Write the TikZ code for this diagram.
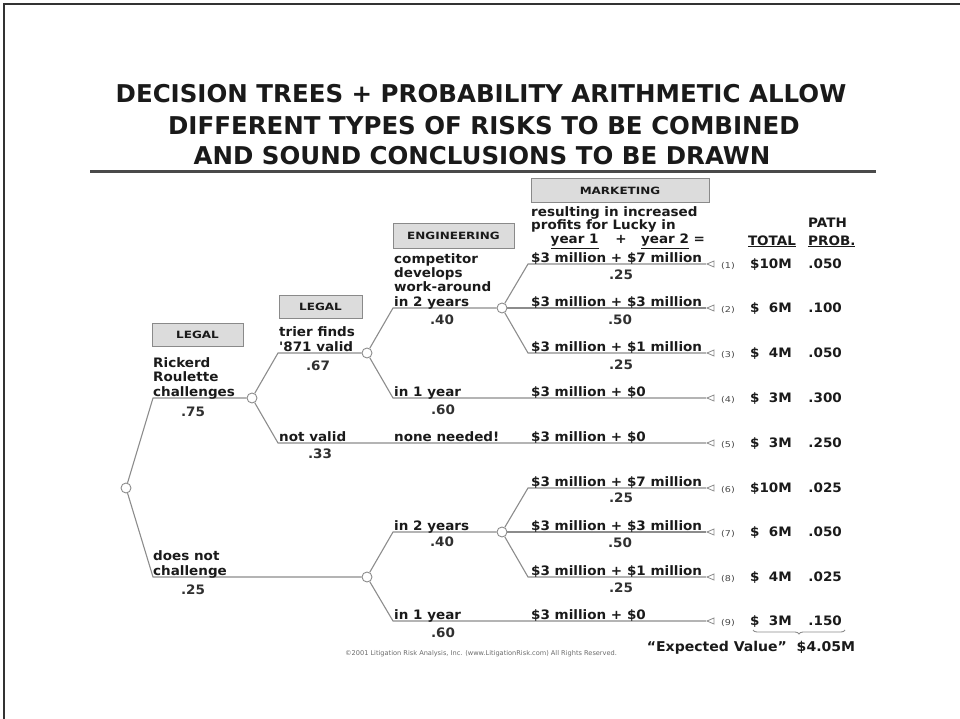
\documentclass[tikz,border=0pt]{standalone}
\usepackage{fontspec}
\setmainfont{DejaVu Sans}
\newfontfamily\bodyfont[FakeStretch=1.04]{DejaVu Sans}
\newfontfamily\boxfont[FakeStretch=1.2]{DejaVu Sans}
\usetikzlibrary{shapes.geometric,decorations.pathreplacing}
\definecolor{ink}{HTML}{1A1A1A}
\definecolor{probink}{HTML}{303030}
\definecolor{linegray}{HTML}{8C8C8C}
\definecolor{boxfill}{HTML}{DCDCDC}
\definecolor{boxdraw}{HTML}{8A8A8A}
\definecolor{framegray}{HTML}{333333}
\definecolor{rulegray}{HTML}{4A4A4A}
\definecolor{footgray}{HTML}{6A6A6A}
\tikzset{
  chance/.style={circle, draw=linegray, fill=white, minimum size=10pt, inner sep=0pt, line width=0.9pt},
  term/.style={isosceles triangle, shape border rotate=180, isosceles triangle stretches, draw=linegray, fill=white, minimum width=6pt, minimum height=7pt, inner sep=0pt, line width=0.8pt},
  branch/.style={draw=linegray, line width=1.1pt},
  lbl/.style={font=\bodyfont\bfseries\fontsize{13}{14.5}\selectfont, text=ink, inner sep=0pt, align=left, anchor=south west, execute at end node=\strut},
  lbltight/.style={font=\bodyfont\bfseries\fontsize{13}{12.5}\selectfont, text=ink, inner sep=0pt, align=left, anchor=south west, execute at end node=\strut},
  prob/.style={font=\bodyfont\bfseries\fontsize{13}{14.5}\selectfont, text=probink, inner sep=0pt},
  rowtxt/.style={font=\bodyfont\bfseries\fontsize{13}{14.5}\selectfont, text=ink, inner sep=0pt},
  rownum/.style={font=\boxfont\fontsize{8}{9}\selectfont, text=ink!80, inner sep=0pt, anchor=base west},
  catbox/.style={draw=boxdraw, fill=boxfill, font=\boxfont\bfseries\fontsize{10}{11}\selectfont, text=ink, inner sep=0pt, line width=1pt},
  titletxt/.style={font=\bfseries\fontsize{24.5}{31}\selectfont, text=ink, inner sep=0pt, anchor=base},
}
\begin{document}
\begin{tikzpicture}[x=1pt,y=-1pt]
\useasboundingbox (0,0) rectangle (960,719);
% frame
\draw[framegray, line width=1.5pt] (4,719) -- (4,4) -- (960,4);
% title
\node[titletxt] (title1) at (481,103) {DECISION TREES + PROBABILITY ARITHMETIC ALLOW};
\node[titletxt] (title2) at (484,135) {DIFFERENT TYPES OF RISKS TO BE COMBINED};
\node[titletxt] (title3) at (482,165) {AND SOUND CONCLUSIONS TO BE DRAWN};
\draw[rulegray, line width=3pt] (90,171.5) -- (876,171.5);

% category boxes
\node[catbox, minimum width=91pt, minimum height=23pt] (legal1) at (197.5,334.5) {LEGAL};
\node[catbox, minimum width=83pt, minimum height=23pt] (legal2) at (320.5,306.5) {LEGAL};
\node[catbox, minimum width=121pt, minimum height=24pt] (eng) at (453.5,236) {ENGINEERING};
\node[catbox, minimum width=178pt, minimum height=24pt] (mkt) at (620,191) {MARKETING};

% chance nodes
\node[chance] (root) at (126,488) {};
\node[chance] (c1) at (252,398) {};
\node[chance] (c2) at (367,353) {};
\node[chance] (c3) at (502,308) {};
\node[chance] (c4) at (367,577) {};
\node[chance] (c5) at (502,532) {};
% terminals
\node[term] (t1) at (712,264) {};
\node[term] (t2) at (712,308) {};
\node[term] (t3) at (712,353) {};
\node[term] (t4) at (712,398) {};
\node[term] (t5) at (712,443) {};
\node[term] (t6) at (712,488) {};
\node[term] (t7) at (712,532) {};
\node[term] (t8) at (712,577) {};
\node[term] (t9) at (712,621) {};
% bends
\coordinate (a1) at (153,398);
\coordinate (a2) at (153,577);
\coordinate (b1) at (278,353);
\coordinate (b2) at (278,443);
\coordinate (e1) at (393,308);
\coordinate (e2) at (393,398);
\coordinate (m1) at (528,264);
\coordinate (m3) at (528,353);
\coordinate (f1) at (393,532);
\coordinate (f2) at (393,621);
\coordinate (n1) at (528,488);
\coordinate (n3) at (528,577);
% branches
\draw[branch] (root) -- (a1) -- (c1);
\draw[branch] (root) -- (a2) -- (c4);
\draw[branch] (c1) -- (b1) -- (c2);
\draw[branch] (c1) -- (b2) -- (t5);
\draw[branch] (c2) -- (e1) -- (c3);
\draw[branch] (c2) -- (e2) -- (t4);
\draw[branch] (c3) -- (m1) -- (t1);
\draw[branch] (c3) -- (t2);
\draw[branch] (c3) -- (m3) -- (t3);
\draw[branch] (c4) -- (f1) -- (c5);
\draw[branch] (c4) -- (f2) -- (t9);
\draw[branch] (c5) -- (n1) -- (t6);
\draw[branch] (c5) -- (t7);
\draw[branch] (c5) -- (n3) -- (t8);

% branch labels
\node[lbl] (rick) at (153,401) {Rickerd\\Roulette\\challenges};
\node[prob] (p75) at (193,412) {.75};
\node[lbl] (trier) at (279,356) {trier finds\\'871 valid};
\node[prob] (p67) at (318,366) {.67};
\node[lbl] (notvalid) at (279,446) {not valid};
\node[prob] (p33) at (320,454) {.33};
\node[lbltight] (comp) at (394,295) {competitor\\develops\\work-around};
\node[lbl] (in2) at (394,311) {in 2 years};
\node[prob] (p40) at (442,320) {.40};
\node[lbl] (in1) at (394,401) {in 1 year};
\node[prob] (p60) at (443,410) {.60};
\node[lbl] (none) at (394,446) {none needed!};
\node[lbltight] (res) at (531,249) {resulting in increased\\profits for Lucky in\\[1.5pt]\hspace*{1.5em}\underline{year 1}\hspace{1.3em}+\hspace{1.1em}\underline{year 2} =};
\node[lbl] (lm1) at (531,267) {\$3 million + \$7 million};
\node[prob] (pm1) at (621,275) {.25};
\node[lbl] (lm2) at (531,311) {\$3 million + \$3 million};
\node[prob] (pm2) at (620,320) {.50};
\node[lbl] (lm3) at (531,356) {\$3 million + \$1 million};
\node[prob] (pm3) at (621,365) {.25};
\node[lbl] (lm4) at (531,401) {\$3 million + \$0};
\node[lbl] (lm5) at (531,446) {\$3 million + \$0};

\node[lbl] (dnc) at (153,580) {does not\\challenge};
\node[prob] (p25) at (193,590) {.25};
\node[lbl] (bin2) at (394,535) {in 2 years};
\node[prob] (bp40) at (442,542) {.40};
\node[lbl] (bin1) at (394,624) {in 1 year};
\node[prob] (bp60) at (443,633) {.60};
\node[lbl] (bm1) at (531,491) {\$3 million + \$7 million};
\node[prob] (bpm1) at (621,498) {.25};
\node[lbl] (bm2) at (531,535) {\$3 million + \$3 million};
\node[prob] (bpm2) at (620,543) {.50};
\node[lbl] (bm3) at (531,580) {\$3 million + \$1 million};
\node[prob] (bpm3) at (621,588) {.25};
\node[lbl] (bm4) at (531,624) {\$3 million + \$0};

% headers
\node[rowtxt, anchor=base] (htotal) at (772,245) {\underline{TOTAL}};
\node[rowtxt, anchor=base west] (hpath) at (808,228) {PATH};
\node[rowtxt, anchor=base west] (hprob) at (808,245) {\underline{PROB.}};

% rows
\foreach \i/\L/\tot/\pp in {1/264/\$10M/.050, 2/308/\$\phantom{1}6M/.100, 3/353/\$\phantom{1}4M/.050, 4/398/\$\phantom{1}3M/.300, 5/443/\$\phantom{1}3M/.250, 6/488/\$10M/.025, 7/532/\$\phantom{1}6M/.050, 8/577/\$\phantom{1}4M/.025, 9/621/\$\phantom{1}3M/.150}{
  \node[rownum] (num\i) at (721,\L+4.5) {(\i)};
  \node[rowtxt, anchor=base east] (tot\i) at (792,\L+4.5) {\tot};
  \node[rowtxt, anchor=base east] (pp\i) at (842,\L+4.5) {\pp};
}

% expected value
\draw[linegray, line width=0.9pt, decorate, decoration={brace, mirror, amplitude=4pt}] (753,630) -- (845,630);
\node[rowtxt, anchor=base, font=\bodyfont\bfseries\fontsize{13.5}{15}\selectfont] (ev) at (751,651) {“Expected Value”\ \ \$4.05M};

% footer
\node[font=\fontsize{6.6}{8}\selectfont, text=footgray, inner sep=0pt] (foot) at (481,654) {©2001 Litigation Risk Analysis, Inc. (www.LitigationRisk.com) All Rights Reserved.};
\end{tikzpicture}
\end{document}
